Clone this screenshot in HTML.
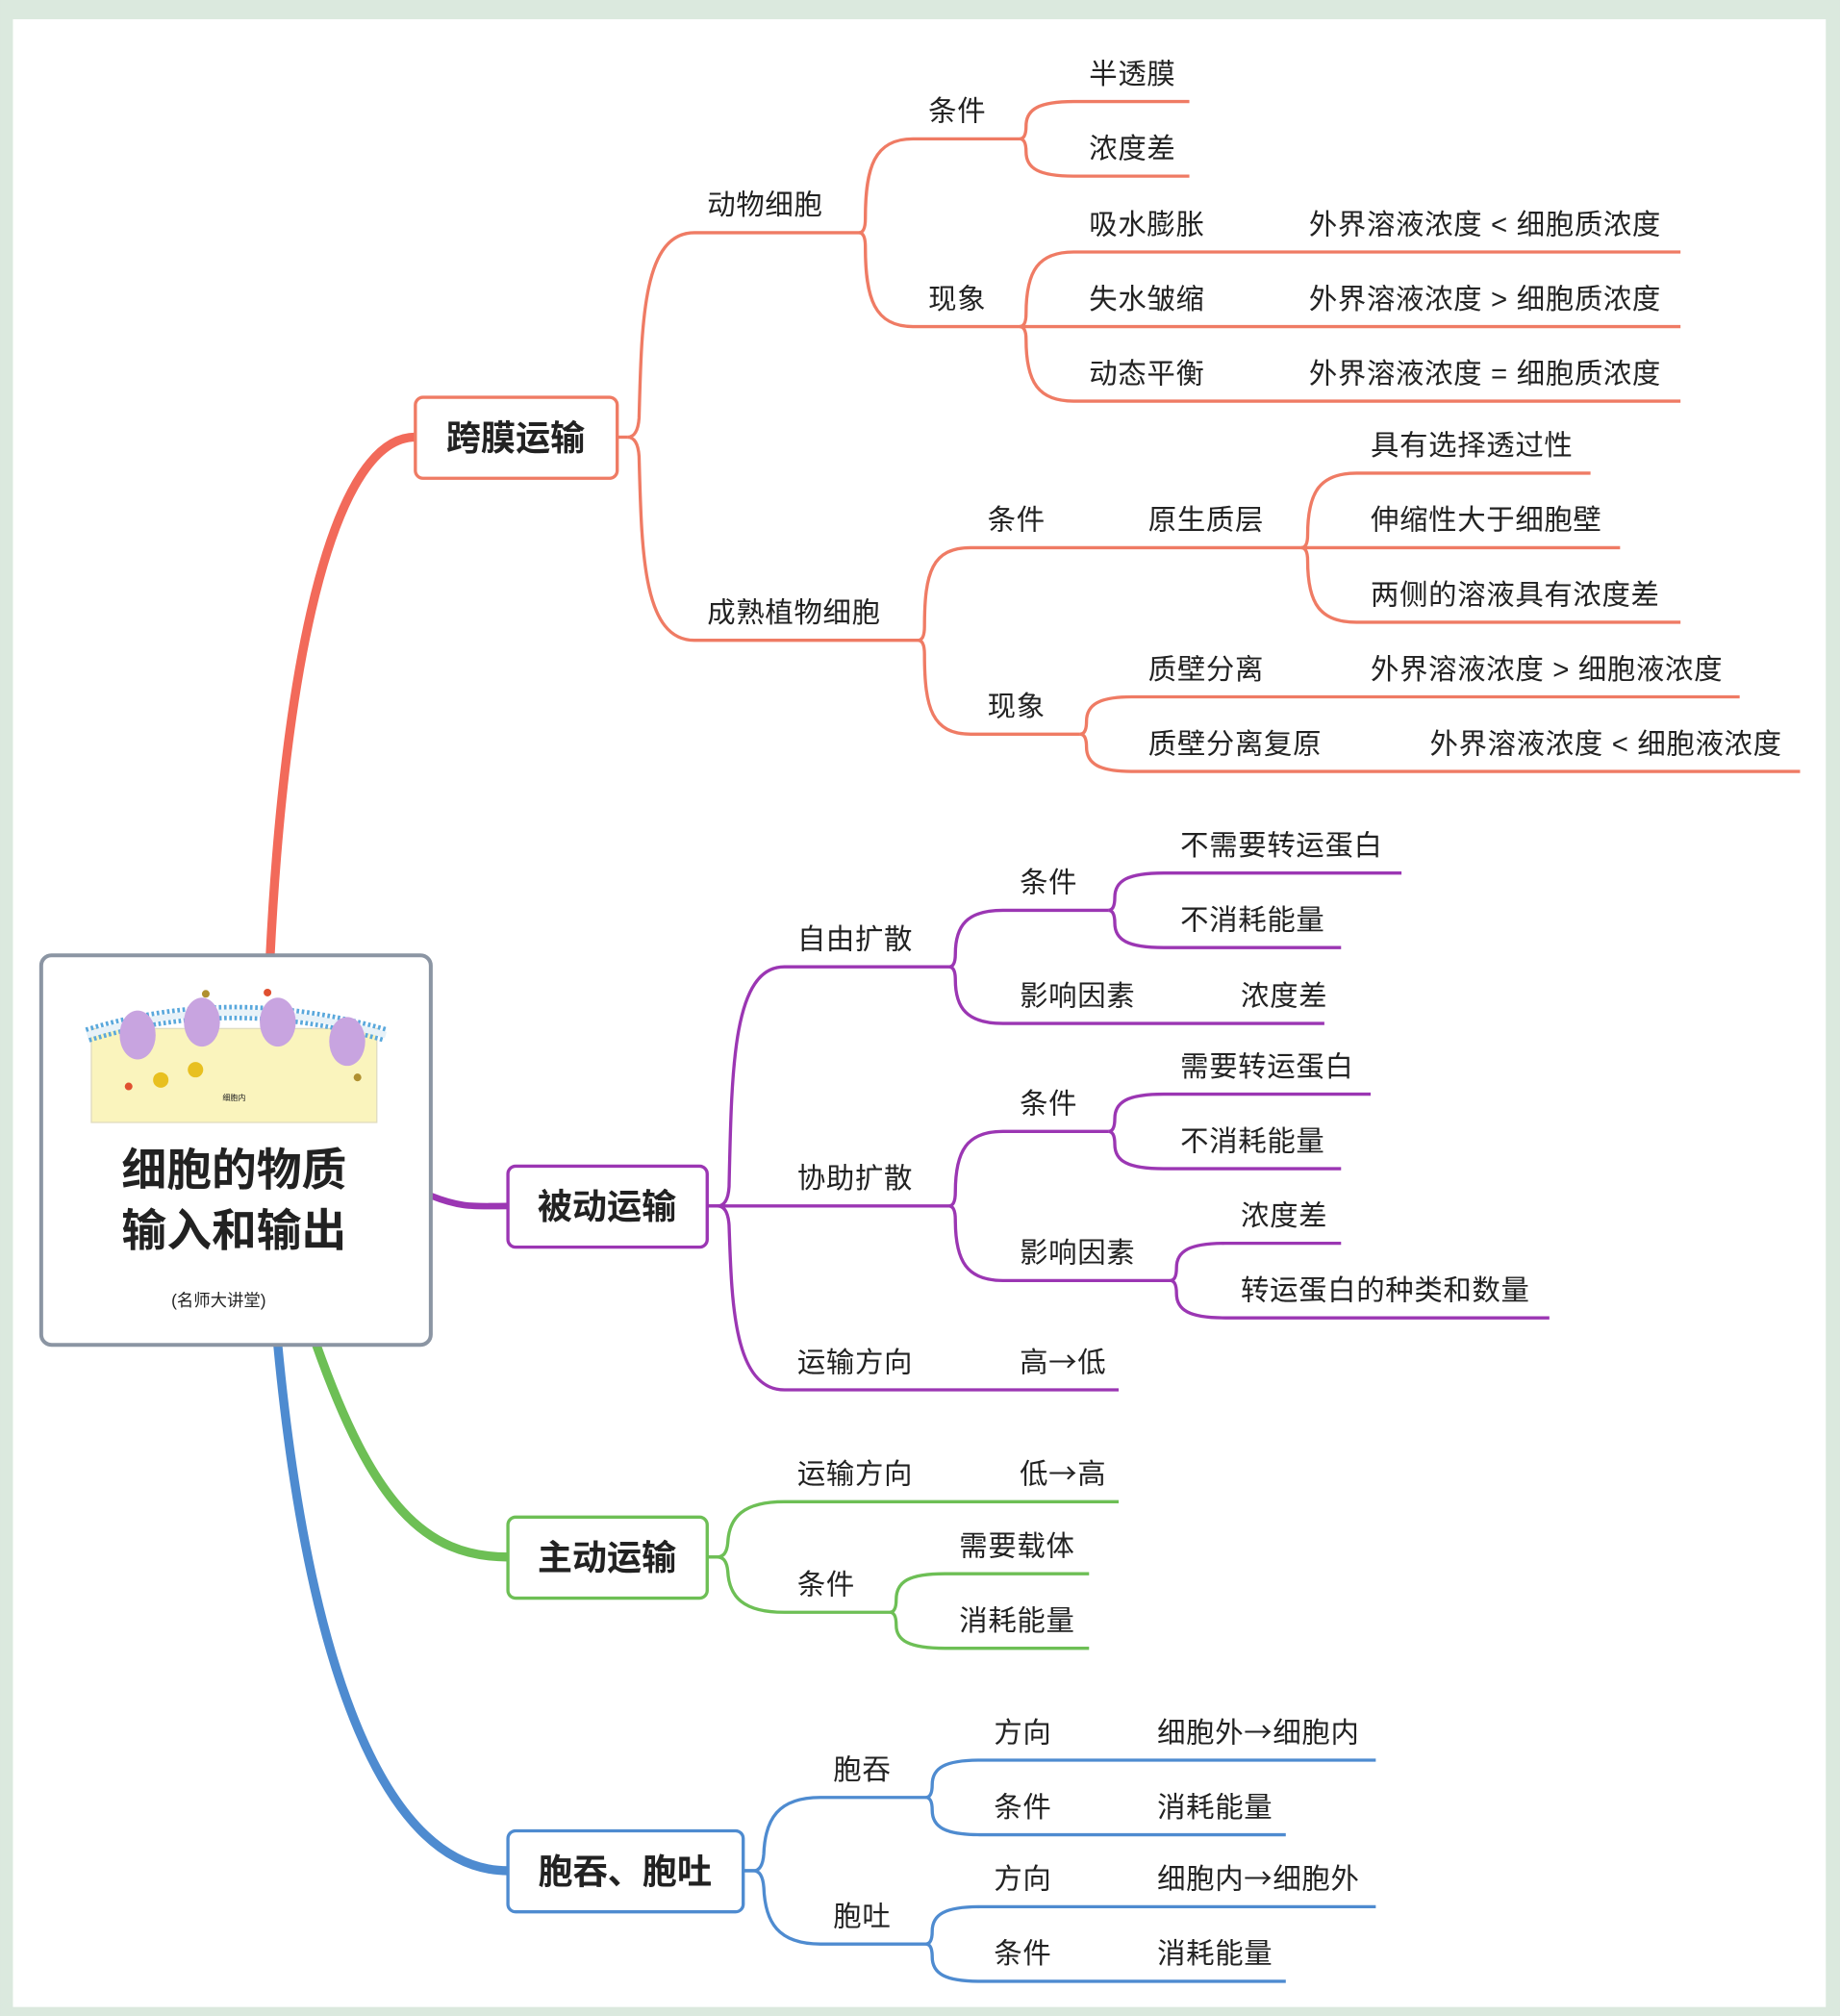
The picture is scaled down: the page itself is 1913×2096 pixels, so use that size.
<!DOCTYPE html>
<html><head><meta charset="utf-8"><style>
html,body{margin:0;padding:0;background:#dbe9de;}
svg{display:block}
text{font-family:"Liberation Sans","Noto Sans CJK SC",sans-serif;fill:#222;}
.a{font-family:"Noto Sans CJK SC",sans-serif;}
</style></head><body>
<svg width="1913" height="2096" viewBox="0 0 1431 1568" xmlns="http://www.w3.org/2000/svg">
<rect x="0" y="0" width="1431" height="1568" fill="#dbe9de"/>
<rect x="10" y="15" width="1410" height="1546" fill="#ffffff"/>

<path d="M210 745 C222 500 262 340 323 340" stroke="#f26a5a" stroke-width="7" fill="none"/>
<path d="M335 930 C360 940 370 938 395 938" stroke="#9b36b3" stroke-width="5" fill="none"/>
<path d="M246 1046 C290 1170 330 1211 395 1211" stroke="#6dbf55" stroke-width="7" fill="none"/>
<path d="M216 1046 C240 1300 300 1455 395 1455" stroke="#4e8bd0" stroke-width="7" fill="none"/>

<g stroke="#ef7b64" stroke-width="2.5" fill="none">
<path d="M480 340 L488 340"/>
<path d="M488 340 Q496 340 497 325 C499 250 500 181 540 181 L668 181"/>
<path d="M488 340 Q496 340 497 355 C499 430 500 498 540 498 L714 498"/>
<path d="M668 181 Q673 181 673 170 C673 130 680 108 710 108 L793 108"/>
<path d="M668 181 Q673 181 673 192 C673 232 680 254 710 254 L793 254"/>
<path d="M793 108 Q798 108 798 98 C798 85 808 79 835 79 L925 79"/>
<path d="M793 108 Q798 108 798 118 C798 131 808 137 835 137 L925 137"/>
<path d="M793 254 Q798 254 798 244 C798 210 808 196 835 196 L1307 196"/>
<path d="M793 254 L1307 254"/>
<path d="M793 254 Q798 254 798 264 C798 298 808 312 835 312 L1307 312"/>
<path d="M714 498 Q719 498 719 487 C719 445 725 426 755 426 L1012 426"/>
<path d="M714 498 Q719 498 719 509 C719 551 725 571 755 571 L840 571"/>
<path d="M1012 426 Q1017 426 1017 416 C1017 382 1027 368 1055 368 L1237 368"/>
<path d="M1012 426 L1260 426"/>
<path d="M1012 426 Q1017 426 1017 436 C1017 470 1027 484 1055 484 L1307 484"/>
<path d="M840 571 Q845 571 845 561 C845 548 855 542 880 542 L1353 542"/>
<path d="M840 571 Q845 571 845 581 C845 594 855 600 880 600 L1400 600"/>
</g>

<g stroke="#9b36b3" stroke-width="2.5" fill="none">
<path d="M550 938 L558 938 Q566 938 567 923 C569 830 570 752 610 752 L738 752"/>
<path d="M550 938 L738 938"/>
<path d="M558 938 Q566 938 567 953 C569 1010 570 1081 610 1081 L870 1081"/>
<path d="M738 752 Q743 752 743 742 C743 720 752 708 780 708 L862 708"/>
<path d="M738 752 Q743 752 743 762 C743 784 752 796 780 796 L1030 796"/>
<path d="M862 708 Q867 708 867 698 C867 685 877 679 905 679 L1090 679"/>
<path d="M862 708 Q867 708 867 718 C867 731 877 737 905 737 L1043 737"/>
<path d="M738 938 Q743 938 743 927 C743 895 752 880 780 880 L862 880"/>
<path d="M738 938 Q743 938 743 949 C743 981 752 996 780 996 L910 996"/>
<path d="M862 880 Q867 880 867 870 C867 857 877 851 905 851 L1066 851"/>
<path d="M862 880 Q867 880 867 890 C867 903 877 909 905 909 L1043 909"/>
<path d="M910 996 Q915 996 915 986 C915 973 925 967 953 967 L1043 967"/>
<path d="M910 996 Q915 996 915 1006 C915 1019 925 1025 953 1025 L1205 1025"/>
</g>

<g stroke="#6dbf55" stroke-width="2.5" fill="none">
<path d="M550 1211 L558 1211 Q565 1211 566 1200 C567 1180 578 1168 610 1168 L870 1168"/>
<path d="M550 1211 L558 1211 Q565 1211 566 1222 C567 1242 578 1254 610 1254 L692 1254"/>
<path d="M692 1254 Q697 1254 697 1244 C697 1230 707 1224 735 1224 L847 1224"/>
<path d="M692 1254 Q697 1254 697 1264 C697 1276 707 1282 735 1282 L847 1282"/>
</g>

<g stroke="#4e8bd0" stroke-width="2.5" fill="none">
<path d="M578 1455 L586 1455 Q593 1455 594 1442 C595 1415 605 1398 638 1398 L720 1398"/>
<path d="M578 1455 L586 1455 Q593 1455 594 1468 C595 1495 605 1512 638 1512 L720 1512"/>
<path d="M720 1398 Q725 1398 725 1388 C725 1375 735 1369 762 1369 L1070 1369"/>
<path d="M720 1398 Q725 1398 725 1408 C725 1421 735 1427 762 1427 L1000 1427"/>
<path d="M720 1512 Q725 1512 725 1502 C725 1489 735 1483 762 1483 L1070 1483"/>
<path d="M720 1512 Q725 1512 725 1522 C725 1535 735 1541 762 1541 L1000 1541"/>
</g>

<rect x="32" y="743" width="303" height="303" rx="8" fill="#fff" stroke="#8b95a3" stroke-width="3"/>
<rect x="71" y="800" width="222" height="73" fill="#faf4bd" stroke="#e0dcc0"/>
<path d="M68 805 Q180 770 300 805" stroke="#5aa8dc" stroke-width="12" fill="none" stroke-dasharray="2 2"/>
<path d="M68 805 Q180 770 300 805" stroke="#e8f2f8" stroke-width="5" fill="none"/>
<ellipse cx="107" cy="805" rx="14" ry="19" fill="#c8a4e0"/>
<ellipse cx="157" cy="795" rx="14" ry="19" fill="#c8a4e0"/>
<ellipse cx="216" cy="795" rx="14" ry="19" fill="#c8a4e0"/>
<ellipse cx="270" cy="810" rx="14" ry="19" fill="#c8a4e0"/>
<circle cx="125" cy="840" r="6" fill="#e8c020"/>
<circle cx="152" cy="832" r="6" fill="#e8c020"/>
<circle cx="100" cy="845" r="3" fill="#e05030"/>
<circle cx="160" cy="773" r="3" fill="#b09030"/>
<circle cx="208" cy="772" r="3" fill="#e05030"/>
<circle cx="278" cy="838" r="3" fill="#b09030"/>
<text x="182" y="856" font-size="6" text-anchor="middle" fill="#666">细胞内</text>
<text x="182" y="922" font-size="35" font-weight="bold" text-anchor="middle" fill="#111">细胞的物质</text>
<text x="182" y="969" font-size="35" font-weight="bold" text-anchor="middle" fill="#111">输入和输出</text>
<text x="170" y="1016" font-size="13" text-anchor="middle" fill="#333">(名师大讲堂)</text>

<rect x="323" y="309" width="157" height="63" rx="6" fill="#fff" stroke="#ef7b64" stroke-width="2.5"/>
<text x="401" y="350" font-size="27" font-weight="bold" text-anchor="middle" fill="#111">跨膜运输</text>
<rect x="395" y="907" width="155" height="63" rx="6" fill="#fff" stroke="#9b36b3" stroke-width="2.5"/>
<text x="472" y="948" font-size="27" font-weight="bold" text-anchor="middle" fill="#111">被动运输</text>
<rect x="395" y="1180" width="155" height="63" rx="6" fill="#fff" stroke="#6dbf55" stroke-width="2.5"/>
<text x="472" y="1221" font-size="27" font-weight="bold" text-anchor="middle" fill="#111">主动运输</text>
<rect x="395" y="1424" width="183" height="63" rx="6" fill="#fff" stroke="#4e8bd0" stroke-width="2.5"/>
<text x="486" y="1465" font-size="27" font-weight="bold" text-anchor="middle" fill="#111">胞吞、胞吐</text>

<g font-size="22" letter-spacing="0.5">
<text x="550" y="167">动物细胞</text>
<text x="722" y="94">条件</text>
<text x="847" y="65">半透膜</text>
<text x="847" y="123">浓度差</text>
<text x="722" y="240">现象</text>
<text x="847" y="182">吸水膨胀</text>
<text x="1018" y="182">外界溶液浓度 &lt; 细胞质浓度</text>
<text x="847" y="240">失水皱缩</text>
<text x="1018" y="240">外界溶液浓度 &gt; 细胞质浓度</text>
<text x="847" y="298">动态平衡</text>
<text x="1018" y="298">外界溶液浓度 = 细胞质浓度</text>
<text x="550" y="484">成熟植物细胞</text>
<text x="768" y="412">条件</text>
<text x="893" y="412">原生质层</text>
<text x="1066" y="354">具有选择透过性</text>
<text x="1066" y="412">伸缩性大于细胞壁</text>
<text x="1066" y="470">两侧的溶液具有浓度差</text>
<text x="768" y="557">现象</text>
<text x="893" y="528">质壁分离</text>
<text x="1066" y="528">外界溶液浓度 &gt; 细胞液浓度</text>
<text x="893" y="586">质壁分离复原</text>
<text x="1112" y="586">外界溶液浓度 &lt; 细胞液浓度</text>

<text x="620" y="738">自由扩散</text>
<text x="793" y="694">条件</text>
<text x="918" y="665">不需要转运蛋白</text>
<text x="918" y="723">不消耗能量</text>
<text x="793" y="782">影响因素</text>
<text x="965" y="782">浓度差</text>
<text x="620" y="924">协助扩散</text>
<text x="793" y="866">条件</text>
<text x="918" y="837">需要转运蛋白</text>
<text x="918" y="895">不消耗能量</text>
<text x="793" y="982">影响因素</text>
<text x="965" y="953">浓度差</text>
<text x="965" y="1011">转运蛋白的种类和数量</text>
<text x="620" y="1067">运输方向</text>
<text x="793" y="1067">高<tspan class="a">→</tspan>低</text>

<text x="620" y="1154">运输方向</text>
<text x="793" y="1154">低<tspan class="a">→</tspan>高</text>
<text x="620" y="1240">条件</text>
<text x="746" y="1210">需要载体</text>
<text x="746" y="1268">消耗能量</text>

<text x="648" y="1384">胞吞</text>
<text x="773" y="1355">方向</text>
<text x="900" y="1355">细胞外<tspan class="a">→</tspan>细胞内</text>
<text x="773" y="1413">条件</text>
<text x="900" y="1413">消耗能量</text>
<text x="648" y="1498">胞吐</text>
<text x="773" y="1469">方向</text>
<text x="900" y="1469">细胞内<tspan class="a">→</tspan>细胞外</text>
<text x="773" y="1527">条件</text>
<text x="900" y="1527">消耗能量</text>
</g>
</svg>
</body></html>
